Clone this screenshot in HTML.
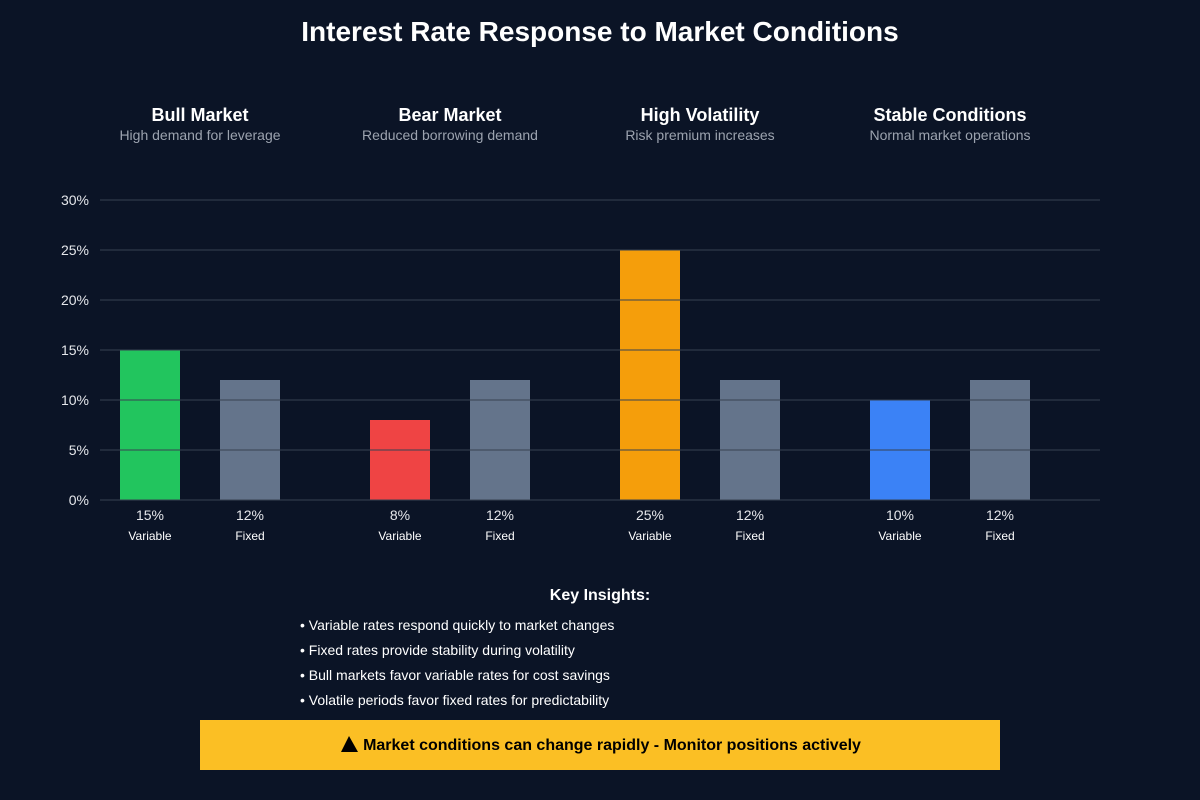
<!DOCTYPE html>
<html><head><meta charset="utf-8"><style>
body{margin:0;background:#0b1426;font-family:"Liberation Sans",sans-serif;}
#root{position:relative;width:1200px;height:800px;overflow:hidden;background:#0b1426;}
svg text{font-family:"Liberation Sans",sans-serif;}
</style></head><body>
<div id="root">
<svg id="chart" width="1200" height="800">
<text x="600" y="41" text-anchor="middle" fill="#fff" font-size="28" font-weight="bold">Interest Rate Response to Market Conditions</text>
<g id="heads"></g>
<g id="axis"></g>
<g id="bars"></g>
<g id="grid"></g>
<g id="labels"></g>
<text x="600" y="600" text-anchor="middle" fill="#fff" font-size="16" font-weight="bold">Key Insights:</text>
<text x="300" y="630" fill="#fff" font-size="14">• Variable rates respond quickly to market changes</text>
<text x="300" y="655" fill="#fff" font-size="14">• Fixed rates provide stability during volatility</text>
<text x="300" y="680" fill="#fff" font-size="14">• Bull markets favor variable rates for cost savings</text>
<text x="300" y="705" fill="#fff" font-size="14">• Volatile periods favor fixed rates for predictability</text>
<rect x="200" y="720" width="800" height="50" fill="#fbbf24"/>
<polygon points="349,736 341,752 358,752" fill="#000"/>
<text x="612" y="750" text-anchor="middle" fill="#000" font-size="16" font-weight="bold">Market conditions can change rapidly - Monitor positions actively</text>
</svg>
</div>
<script>
const categories=["Bull Market","Bear Market","High Volatility","Stable Conditions"];
const subtitles=["High demand for leverage","Reduced borrowing demand","Risk premium increases","Normal market operations"];
const variableRates=[15,8,25,10];
const fixedRates=[12,12,12,12];
const variableColors=["#22c55e","#ef4444","#f59e0b","#3b82f6"];
const yTicks=[0,5,10,15,20,25,30];
const NS="http://www.w3.org/2000/svg";
const y=v=>500-v*10;
const gx=i=>150+i*250;
function mk(tag,attrs,parent,txt){const e=document.createElementNS(NS,tag);for(const k in attrs)e.setAttribute(k,attrs[k]);if(txt!==undefined)e.textContent=txt;document.getElementById(parent).appendChild(e);return e;}
yTicks.forEach(t=>{
 const l=mk('line',{x1:100,x2:1100,y1:y(t),y2:y(t),stroke:'#374151','stroke-opacity':0.5,'stroke-width':2},'grid');
 
 
 const tx=mk('text',{x:89,y:y(t)+5,'text-anchor':'end',fill:'#e5e7eb','font-size':14},'axis',t+'%');
 
 
});
categories.forEach((c,i)=>{
 const cx=gx(i)+50;
 const h=mk('text',{x:cx,y:121,'text-anchor':'middle',fill:'#fff','font-size':18,'font-weight':'bold'},'heads',c);
 
 
 const s=mk('text',{x:cx,y:140,'text-anchor':'middle',fill:'#9ca3af','font-size':14},'heads',subtitles[i]);
 
 
 [[variableRates[i],variableColors[i],'Variable',gx(i)],[fixedRates[i],'#64748b','Fixed',gx(i)+100]].forEach(([v,col,lab,x])=>{
  const b=mk('rect',{x:x-30,y:y(v),width:60,height:v*10,fill:col},'bars');
  
  
  const vt=mk('text',{x:x,y:520,'text-anchor':'middle',fill:'#e5e7eb','font-size':14},'labels',v+'%');
  
  
  const lt=mk('text',{x:x,y:540,'text-anchor':'middle',fill:'#fff','font-size':12},'labels',lab);
  
  
 });
});
</script>
</body></html>
